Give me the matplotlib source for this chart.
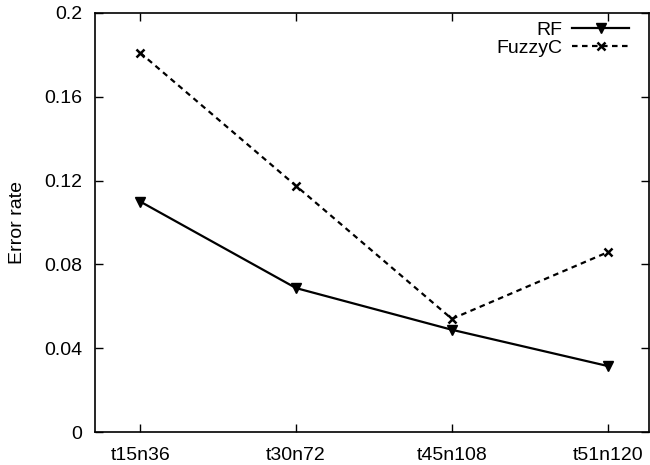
import matplotlib.pyplot as plt
import numpy as np

plt.rcParams['font.family'] = ['Liberation Sans', 'DejaVu Sans']

# data
datasets = ['t15n36', 't30n72', 't45n108', 't51n120']
rf = [0.110, 0.0687, 0.0488, 0.0315]
fuzzyc = [0.181, 0.1175, 0.0540, 0.0858]
yticks = [0, 0.04, 0.08, 0.12, 0.16, 0.2]
ytick_labels = ['0', '0.04', '0.08', '0.12', '0.16', '0.2']

x = np.arange(len(datasets))
fs = 14

fig = plt.figure(figsize=(6.5, 4.65), dpi=100)
ax = fig.add_axes([95/650, 1 - 432/465, (649 - 95)/650, (432 - 13)/465])

ax.plot(x, rf, color='black', lw=1.6, marker='v', ms=7, label='RF')
ax.plot(x, fuzzyc, color='black', lw=1.6, ls=(0, (2.5, 2)), marker='x', ms=5.5,
        mew=1.8, label='FuzzyC')

ax.set_xlim(-0.29, 3.265)
ax.set_ylim(0, 0.2)
ax.set_xticks(x)
ax.set_xticklabels(datasets)
ax.set_yticks(yticks)
ax.set_yticklabels(ytick_labels)
ax.tick_params(direction='in', top=True, right=True, length=6, width=1,
               labelsize=fs, pad=9)
ax.tick_params(axis='x', pad=11)
for sp in ax.spines.values():
    sp.set_linewidth(1.2)
ax.set_ylabel('Error rate', fontsize=fs, labelpad=13)

ax.legend(loc='upper right', bbox_to_anchor=(0.988, 1.012), frameon=False,
          markerfirst=False, handlelength=2.9, fontsize=fs,
          labelspacing=0.0, handletextpad=0.5, borderpad=0.2)

fig.savefig('out.png', dpi=100)
